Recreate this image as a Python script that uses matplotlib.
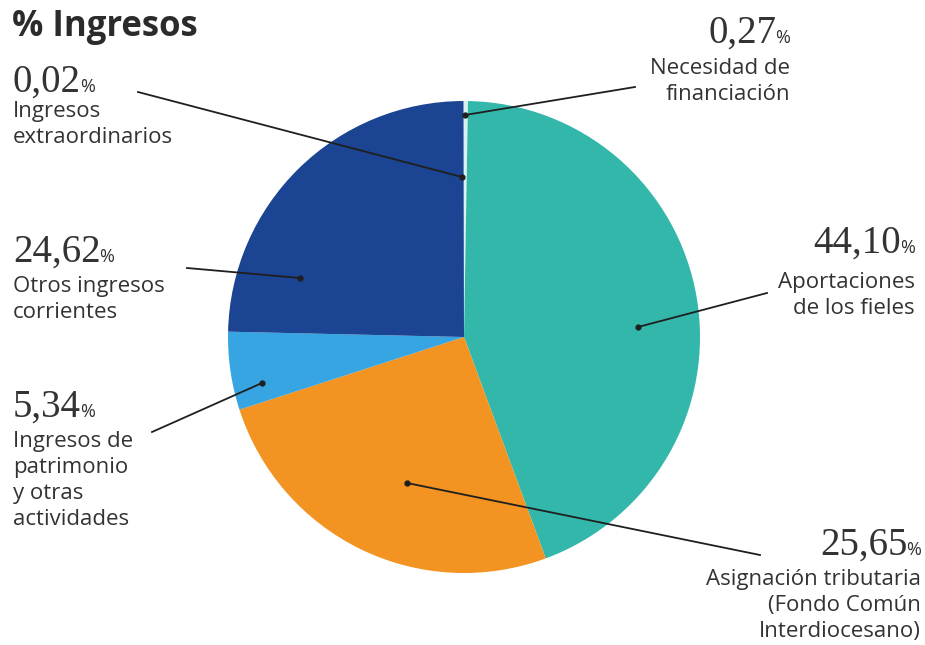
import matplotlib.pyplot as plt

plt.rcParams['font.family'] = ['Open Sans', 'DejaVu Sans']

# datos
porcentajes = [0.27, 44.10, 25.65, 5.34, 24.62, 0.02]
etiquetas = [
    ['Necesidad de', 'financiación'],
    ['Aportaciones', 'de los fieles'],
    ['Asignación tributaria', '(Fondo Común', 'Interdiocesano)'],
    ['Ingresos de', 'patrimonio', 'y otras', 'actividades'],
    ['Otros ingresos', 'corrientes'],
    ['Ingresos', 'extraordinarios'],
]
colores = ['#d9f2ef', '#33b7ab', '#f29322', '#37a5e1', '#1b4492', '#cfe8f4']

# maquetación (píxeles de imagen): x, base del número, base de la 1ª línea, alineación, punto, inicio guía
rotulos = [
    (790, 43, 74, 'right', (465, 115), (635, 87)),
    (915, 253, 288, 'right', (638, 327), (767, 293)),
    (921, 555, 585, 'right', (407, 483), (760, 555)),
    (13, 417, 447, 'left', (262, 383), (152, 432)),
    (13, 262, 292, 'left', (300, 278), (187, 268)),
    (13, 92, 117, 'left', (462, 177), (138, 92)),
]
gris = '#333333'

fig = plt.figure(figsize=(9.25, 6.45), dpi=100)
ax = fig.add_axes([0, 0, 1, 1])
ax.pie(porcentajes, colors=colores, startangle=270, counterclock=True,
       center=(464, 337), radius=236, wedgeprops=dict(linewidth=0))
ax.set_xlim(0, 925)
ax.set_ylim(645, 0)
ax.set_aspect('equal')
ax.axis('off')

ax.text(12, 36, '% Ingresos', fontsize=25, fontweight='bold', color='#2b2b2b', va='baseline')

renderer = fig.canvas.get_renderer()
for valor, lineas, (x, ybn, ybl, ha, punto, inicio) in zip(porcentajes, etiquetas, rotulos):
    num = f'{valor:.2f}'.replace('.', ',')
    if ha == 'left':
        t = ax.text(x, ybn, num, ha='left', va='baseline', fontfamily='Liberation Serif',
                    fontsize=28, color=gris)
        w = t.get_window_extent(renderer).width
        ax.text(x + w - 1, ybn, '%', ha='left', va='baseline', fontsize=13, color=gris)
    else:
        p = ax.text(x, ybn, '%', ha='right', va='baseline', fontsize=13, color=gris)
        w = p.get_window_extent(renderer).width
        ax.text(x - w + 1, ybn, num, ha='right', va='baseline', fontfamily='Liberation Serif',
                fontsize=28, color=gris)
    for i, linea in enumerate(lineas):
        ax.text(x, ybl + i * 26, linea, ha=ha, va='baseline', fontsize=16, color=gris)
    ax.plot([inicio[0], punto[0]], [inicio[1], punto[1]], color='#1f1f1f', lw=1.3)
    ax.plot(punto[0], punto[1], 'o', ms=3.5, color='#1f1f1f')

fig.savefig('out.png', dpi=100)
